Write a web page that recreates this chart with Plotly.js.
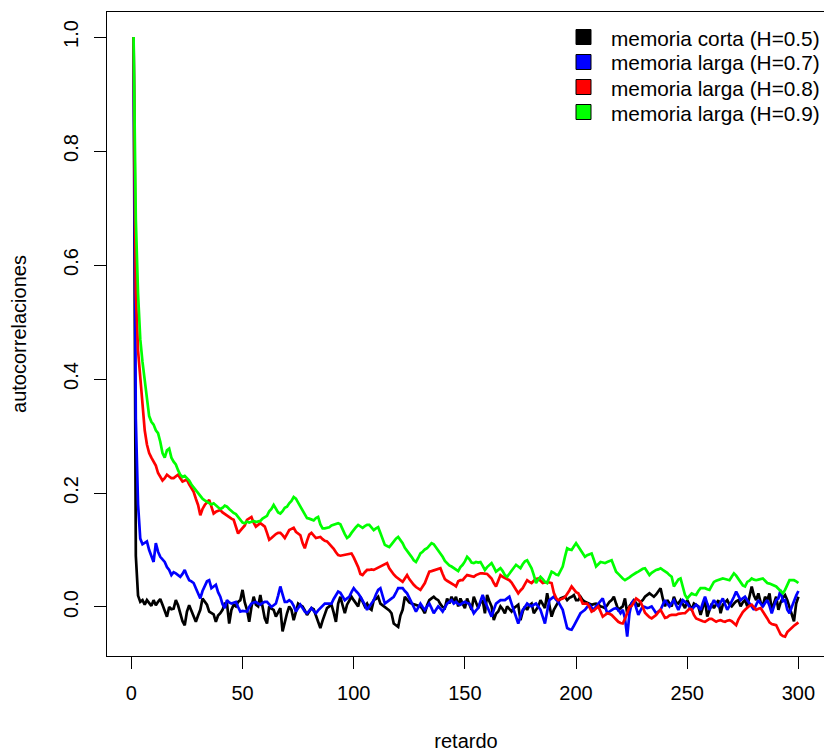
<!DOCTYPE html>
<html>
<head>
<meta charset="utf-8">
<script src="https://cdn.plot.ly/plotly-3.0.1.min.js"></script>
<style>
html,body{margin:0;padding:0;overflow:hidden;background:#fff;width:824px;height:752px;}
#chart{width:830px;height:752px;}
</style>
</head>
<body>
<div id="chart"></div>
<script>
// ---- data ----
const seriesNames = ["memoria corta (H=0.5)", "memoria larga (H=0.7)", "memoria larga (H=0.8)", "memoria larga (H=0.9)"];
const seriesColors = ["#000000", "#0000FF", "#FF0000", "#00FF00"];
const xTicks = [0, 50, 100, 150, 200, 250, 300];
const yTicks = [0.0, 0.2, 0.4, 0.6, 0.8, 1.0];
const xLabel = "retardo";
const yLabel = "autocorrelaciones";

const acfH05 = [
1.0,0.09,0.02,0.009,0.012,0.004,0.012,0.006,0.002,0.012,
0.003,0.009,0.014,0.004,-0.008,-0.017,0.0,-0.004,-0.003,0.012,
0.003,-0.011,-0.025,-0.032,-0.008,0.003,-0.006,-0.017,-0.026,-0.015,
-0.005,0.015,0.01,0.004,-0.008,-0.011,-0.013,-0.026,-0.015,-0.011,
-0.005,0.006,0.006,-0.029,-0.005,0.004,0.001,0.009,0.012,0.03,
0.008,-0.005,-0.026,0.0,0.018,0.004,0.001,0.021,0.001,-0.02,
-0.029,0.001,-0.003,-0.005,-0.017,-0.008,-0.002,-0.043,-0.025,-0.011,
0.001,-0.005,-0.023,-0.008,0.006,0.003,0.001,-0.006,-0.014,-0.008,
-0.002,-0.004,-0.015,-0.026,-0.037,-0.024,-0.011,-0.002,0.001,0.004,
-0.01,-0.026,0.006,0.018,0.003,-0.011,0.004,0.01,0.018,0.012,
0.006,0.001,0.018,0.008,0.001,0.006,-0.002,-0.005,0.012,0.014,
0.018,0.006,0.003,0.001,-0.002,-0.006,-0.011,-0.029,-0.032,-0.035,
-0.015,-0.005,0.018,0.012,0.008,0.006,0.005,0.004,0.002,0.001,
-0.004,-0.011,0.003,0.012,0.015,0.018,0.014,0.012,0.005,0.0,
-0.002,0.015,0.006,0.018,0.009,0.018,0.001,0.015,0.006,-0.002,
0.015,0.004,-0.005,0.018,0.008,-0.002,0.008,0.012,-0.011,0.021,
0.01,0.001,-0.023,-0.012,-0.008,0.001,-0.004,-0.011,0.001,-0.004,
-0.008,-0.002,0.001,0.004,-0.023,-0.008,0.001,-0.005,0.003,0.006,
-0.011,-0.004,0.001,0.012,0.004,-0.002,0.024,0.003,-0.017,-0.005,
0.003,0.009,0.015,0.016,0.018,0.012,0.016,0.018,0.021,0.012,
0.012,0.018,0.012,0.009,0.007,0.005,0.004,0.005,0.006,0.004,
0.001,0.0,-0.002,0.003,0.009,0.012,0.018,0.006,-0.005,-0.002,
0.001,0.015,-0.011,0.001,0.006,0.012,0.007,0.001,0.009,0.012,
0.018,0.021,0.024,0.021,0.018,0.022,0.027,0.033,0.015,0.001,
0.012,0.006,0.001,0.018,0.008,0.006,0.012,0.005,-0.002,0.012,
0.004,-0.005,0.006,0.003,0.001,-0.014,0.0,0.012,-0.017,-0.004,
0.006,-0.002,0.005,0.012,-0.011,0.004,0.008,0.012,0.004,0.001,
0.006,0.01,0.012,0.001,0.008,0.012,0.001,0.02,0.036,0.02,
0.012,0.024,0.008,0.001,0.018,0.012,0.024,-0.005,0.006,0.018,
-0.005,0.008,0.016,0.021,0.012,0.0,-0.011,-0.025,0.006,0.018];

const acfH07 = [
1.0,0.33,0.18,0.12,0.11,0.113,0.115,0.1,0.088,0.079,
0.112,0.097,0.088,0.083,0.079,0.07,0.065,0.056,0.061,0.059,
0.056,0.053,0.058,0.065,0.055,0.047,0.045,0.042,0.033,0.024,
0.015,0.028,0.036,0.045,0.047,0.033,0.036,0.039,0.026,0.018,
0.005,-0.002,0.012,0.008,0.006,0.008,0.009,0.0,-0.008,-0.007,
-0.008,-0.008,0.0,0.006,0.008,0.009,0.006,0.004,0.007,0.009,
0.009,0.004,0.0,0.003,0.006,0.02,0.036,0.022,0.009,0.009,
0.012,0.009,0.002,-0.008,-0.002,0.004,-0.002,-0.008,-0.011,-0.006,
-0.002,-0.007,-0.011,-0.006,-0.002,0.002,0.006,0.006,0.006,0.006,
0.014,0.021,0.027,0.025,0.018,0.012,0.015,0.018,0.026,0.033,
0.028,0.024,0.018,0.012,0.004,-0.005,0.0,0.006,0.012,0.022,
0.03,0.033,0.02,0.006,0.009,0.012,0.015,0.018,0.025,0.033,
0.033,0.033,0.028,0.024,0.016,0.009,0.0,-0.008,-0.001,0.006,
0.0,-0.005,0.001,0.006,-0.002,-0.011,-0.005,0.001,-0.003,-0.008,
-0.001,0.006,0.009,0.012,0.006,0.009,0.005,0.004,0.007,0.009,
0.007,0.006,-0.002,-0.011,-0.006,-0.002,0.01,0.021,0.01,0.001,
-0.008,-0.017,-0.005,0.006,0.009,0.012,0.012,0.012,0.015,0.018,
0.006,-0.005,-0.017,-0.029,-0.017,-0.005,0.0,0.006,0.003,0.001,
0.004,0.006,0.001,-0.005,-0.017,-0.029,-0.008,0.012,0.015,0.018,
0.013,0.009,0.002,-0.005,-0.021,-0.037,-0.039,-0.04,-0.033,-0.026,
-0.018,-0.011,-0.008,-0.005,0.0,0.004,-0.001,-0.005,0.001,0.006,
0.011,0.015,0.002,-0.011,-0.008,-0.005,-0.003,-0.002,-0.005,-0.011,
-0.005,-0.02,-0.052,-0.012,0.007,0.012,0.0,-0.014,-0.006,0.001,
0.0,-0.002,-0.001,0.001,-0.005,-0.011,-0.008,-0.005,0.004,0.012,
0.006,0.001,0.007,0.012,0.003,-0.005,0.004,0.012,0.009,0.006,
0.0,-0.005,0.0,0.004,0.0,-0.005,0.007,0.018,0.006,-0.005,
0.004,0.012,0.006,0.001,0.008,0.015,0.005,-0.005,0.002,0.009,
0.018,0.027,0.02,0.012,0.015,0.018,0.012,0.006,0.0,-0.005,
0.004,0.012,0.006,0.001,0.007,0.012,0.002,-0.011,0.001,0.012,
0.015,0.03,0.01,0.012,-0.005,-0.011,0.0,0.012,0.02,0.028];

const acfH08 = [
1.0,0.55,0.45,0.40,0.35,0.31,0.285,0.27,0.262,0.255,
0.248,0.235,0.228,0.222,0.226,0.232,0.229,0.226,0.226,0.229,
0.232,0.226,0.22,0.222,0.223,0.215,0.208,0.202,0.19,0.179,
0.161,0.172,0.179,0.184,0.188,0.176,0.164,0.167,0.169,0.17,
0.166,0.163,0.161,0.158,0.155,0.153,0.14,0.129,0.134,0.139,
0.143,0.153,0.156,0.158,0.148,0.141,0.144,0.147,0.144,0.141,
0.13,0.118,0.121,0.125,0.128,0.13,0.13,0.126,0.121,0.128,
0.135,0.137,0.139,0.132,0.129,0.126,0.112,0.103,0.116,0.127,
0.13,0.125,0.121,0.122,0.123,0.119,0.116,0.115,0.111,0.106,
0.102,0.096,0.091,0.09,0.091,0.091,0.092,0.093,0.094,0.087,
0.079,0.07,0.058,0.056,0.061,0.065,0.065,0.066,0.065,0.067,
0.069,0.071,0.074,0.076,0.077,0.068,0.062,0.057,0.053,0.05,
0.046,0.044,0.05,0.056,0.049,0.043,0.039,0.035,0.032,0.03,
0.036,0.042,0.052,0.062,0.063,0.064,0.065,0.066,0.068,0.058,
0.049,0.046,0.044,0.041,0.039,0.036,0.045,0.047,0.047,0.052,
0.056,0.055,0.054,0.053,0.056,0.058,0.059,0.059,0.059,0.058,
0.054,0.05,0.042,0.036,0.046,0.056,0.053,0.051,0.05,0.047,
0.043,0.037,0.03,0.024,0.029,0.033,0.04,0.047,0.044,0.042,
0.046,0.049,0.05,0.046,0.042,0.043,0.044,0.043,0.042,0.025,
0.016,0.012,0.013,0.015,0.017,0.022,0.029,0.036,0.031,0.026,
0.024,0.015,0.006,0.006,0.006,0.0,-0.008,-0.006,-0.002,0.001,
-0.008,-0.017,-0.014,-0.011,-0.012,-0.014,-0.018,-0.023,-0.026,-0.028,
-0.029,-0.021,-0.01,0.0,0.002,0.009,0.015,0.012,0.009,0.0,
-0.01,-0.014,-0.018,-0.02,-0.017,-0.014,-0.009,-0.005,-0.012,-0.019,
-0.018,-0.015,-0.014,-0.014,-0.014,-0.012,-0.011,-0.011,-0.011,-0.007,
-0.003,-0.004,-0.014,-0.02,-0.022,-0.023,-0.025,-0.026,-0.023,-0.021,
-0.021,-0.024,-0.026,-0.024,-0.023,-0.025,-0.026,-0.024,-0.023,-0.025,
-0.029,-0.032,-0.022,-0.014,-0.009,-0.005,-0.001,0.002,0.004,-0.001,
-0.005,-0.003,-0.002,-0.008,-0.013,-0.02,-0.027,-0.03,-0.031,-0.032,
-0.04,-0.048,-0.051,-0.052,-0.044,-0.04,-0.036,-0.033,-0.03,-0.027];

const acfH09 = [
1.0,0.68,0.55,0.47,0.43,0.40,0.37,0.335,0.325,0.32,
0.31,0.305,0.29,0.27,0.262,0.275,0.278,0.262,0.255,0.25,
0.24,0.232,0.228,0.23,0.226,0.222,0.215,0.21,0.205,0.198,
0.193,0.19,0.187,0.185,0.183,0.18,0.182,0.178,0.175,0.172,
0.174,0.178,0.176,0.172,0.168,0.165,0.163,0.158,0.152,0.148,
0.147,0.15,0.148,0.149,0.151,0.149,0.15,0.151,0.155,0.158,
0.16,0.168,0.172,0.179,0.172,0.166,0.164,0.168,0.174,0.176,
0.182,0.186,0.193,0.19,0.183,0.176,0.17,0.162,0.156,0.155,
0.154,0.152,0.156,0.158,0.145,0.138,0.138,0.139,0.14,0.143,
0.144,0.146,0.147,0.145,0.135,0.128,0.121,0.124,0.13,0.136,
0.14,0.144,0.141,0.139,0.142,0.144,0.144,0.139,0.135,0.138,
0.14,0.13,0.118,0.109,0.107,0.105,0.11,0.116,0.12,0.123,
0.118,0.112,0.104,0.099,0.095,0.088,0.082,0.079,0.086,0.094,
0.097,0.101,0.103,0.108,0.112,0.11,0.105,0.099,0.095,0.088,
0.081,0.077,0.073,0.071,0.068,0.065,0.063,0.07,0.074,0.08,
0.088,0.084,0.078,0.077,0.079,0.078,0.079,0.072,0.065,0.07,
0.074,0.077,0.07,0.062,0.065,0.068,0.063,0.056,0.053,0.058,
0.062,0.067,0.074,0.071,0.068,0.075,0.08,0.082,0.075,0.068,
0.056,0.042,0.048,0.053,0.049,0.044,0.042,0.052,0.062,0.06,
0.057,0.056,0.063,0.071,0.088,0.103,0.101,0.1,0.106,0.112,
0.106,0.1,0.094,0.088,0.091,0.093,0.094,0.083,0.071,0.075,
0.079,0.078,0.077,0.079,0.081,0.082,0.072,0.062,0.058,0.053,
0.05,0.047,0.049,0.052,0.055,0.058,0.06,0.062,0.065,0.067,
0.068,0.062,0.056,0.06,0.063,0.065,0.066,0.068,0.065,0.063,
0.06,0.056,0.053,0.036,0.042,0.048,0.05,0.035,0.021,0.015,
0.019,0.024,0.022,0.021,0.028,0.033,0.033,0.033,0.031,0.03,
0.037,0.044,0.046,0.047,0.048,0.05,0.049,0.048,0.047,0.053,
0.059,0.055,0.05,0.043,0.038,0.036,0.044,0.046,0.05,0.048,
0.047,0.048,0.049,0.05,0.046,0.042,0.041,0.039,0.038,0.036,
0.032,0.027,0.024,0.03,0.04,0.047,0.047,0.047,0.045,0.042];

const seriesValues = [acfH05, acfH07, acfH08, acfH09];
const lags = acfH05.map((_, i) => i + 1);

// ---- chart ----
const FONT = "Liberation Sans, Arial, Helvetica, sans-serif";
const ML = 107, MT = 12, MB = 96, W = 830, H = 752, MR = 5;
const plotW = W - ML - MR, plotH = H - MT - MB;
const px2x = p => (p - ML) / plotW;
const py2y = p => (H - MB - p) / plotH;

const traces = seriesValues.map((vals, i) => ({
  x: lags, y: vals, type: "scatter", mode: "lines", name: seriesNames[i],
  line: {color: seriesColors[i], width: 2.7},
  showlegend: false, hoverinfo: "skip"
}));

// legend drawn as boxes + text (R-style legend)
const legendShapes = [], legendAnns = [];
seriesNames.forEach((name, i) => {
  const cy = 37 + 25 * i;
  legendShapes.push({
    type: "rect", xref: "paper", yref: "paper",
    x0: px2x(576), x1: px2x(591), y0: py2y(cy + 7.5), y1: py2y(cy - 7.5),
    fillcolor: seriesColors[i], line: {color: "#000", width: 1}
  });
  legendAnns.push({
    xref: "paper", yref: "paper", x: px2x(609), y: py2y(cy + 1),
    xanchor: "left", yanchor: "middle", showarrow: false, text: name,
    font: {family: FONT, size: 20.8, color: "#000"}
  });
});

const layout = {
  width: W, height: H,
  margin: {l: ML, r: MR, t: MT, b: MB},
  paper_bgcolor: "#fff", plot_bgcolor: "#fff",
  font: {family: FONT, size: 20, color: "#000"},
  showlegend: false,
  shapes: legendShapes,
  annotations: legendAnns,
  xaxis: {
    range: [-10.96, 311.96], tickvals: xTicks, ticktext: xTicks.map(String),
    showgrid: false, zeroline: false, showline: true, mirror: true,
    linecolor: "#000", linewidth: 1, ticks: "outside", ticklen: 12, tickwidth: 1, tickcolor: "#000",
    ticklabelstandoff: 7,
    tickfont: {family: FONT, size: 20, color: "#000"},
    title: {text: xLabel, font: {family: FONT, size: 20, color: "#000"}, standoff: 32}
  },
  yaxis: {
    range: [-0.086, 1.044], tickvals: yTicks, ticktext: yTicks.map(v => v.toFixed(1)),
    showgrid: false, zeroline: false, showline: true, mirror: true,
    linecolor: "#000", linewidth: 1, ticks: "outside", ticklen: 12, tickwidth: 1, tickcolor: "#000",
    tickangle: -90, ticklabelstandoff: 8,
    tickfont: {family: FONT, size: 20, color: "#000"},
    title: {text: yLabel, font: {family: FONT, size: 20, color: "#000"}, standoff: 28}
  }
};

Plotly.newPlot("chart", traces, layout, {displayModeBar: false, staticPlot: true});
</script>
</body>
</html>
